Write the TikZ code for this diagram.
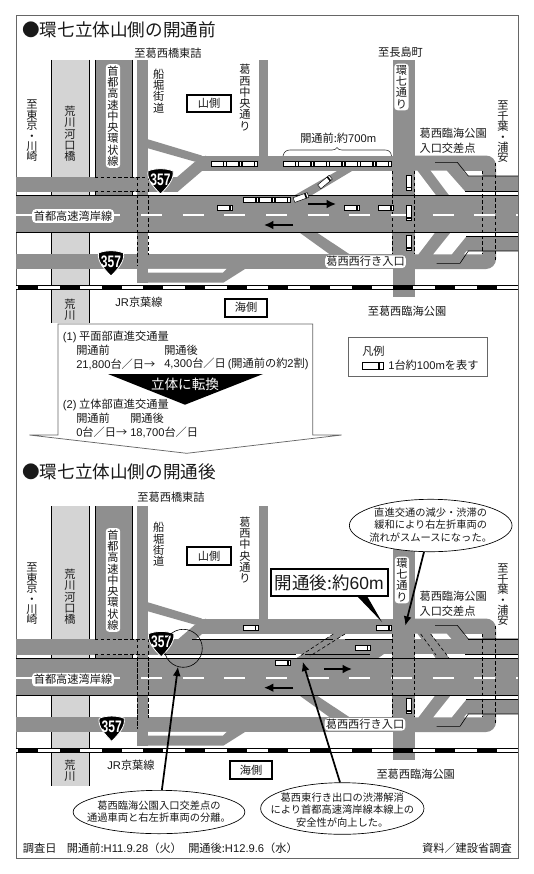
\documentclass[tikz,border=0pt]{standalone}
\usepackage{fontspec}
\usetikzlibrary{arrows.meta,shapes.geometric}
\setmainfont{Noto Sans CJK JP}
\newfontfamily\latn{Liberation Sans}
\lineskiplimit=-6pt
\definecolor{roadgray}{gray}{0.56}
\definecolor{rivergray}{gray}{0.83}
\definecolor{framegray}{gray}{0.40}
\definecolor{inkcol}{gray}{0.10}
\tikzset{
  road/.style={fill=roadgray},
  island/.style={fill=white},
  edge/.style={draw=black,line width=0.45pt},
  dashline/.style={draw=black,line width=0.45pt,dash pattern=on 2.6pt off 1.8pt},
  lab/.style={inner sep=0pt,text=inkcol,font=\fontsize{8.4}{8.45}\selectfont,align=center},
  tightlab/.style={lab,font=\fontsize{8.4}{7.8}\selectfont},
  halo/.style={lab,fill=white,rounded corners=2.5pt,inner sep=1.2pt},
  lableft/.style={lab,anchor=west,align=left},
  thickbox/.style={lab,draw=black,line width=1.5pt,fill=white},
  smalltxt/.style={lab,font=\fontsize{7.7}{9.3}\selectfont},
  balloon/.style={ellipse,draw=black,line width=0.5pt,fill=white,inner sep=0pt},
  title/.style={lab,anchor=west,font=\fontsize{13.2}{14}\selectfont},
  flow/.style={line width=1.2pt,draw=black,-{Latex[length=7pt,width=6.5pt]}},
  leader/.style={line width=1.3pt,draw=black,-{Latex[length=7pt,width=6pt]}},
  carshape/.pic={
    \draw[fill=white,line width=0.35pt] (-7.5,-2.5) rectangle (7.5,2.5);
    \fill[black] (4.2,-2.5) rectangle (5.8,2.5);
  },
  shieldmark/.pic={
    \draw[fill=black,draw=white,line width=0.6pt] (-12.5,-10) .. controls (-6,-13) and (6,-13) .. (12.5,-10)
      .. controls (14,-2) and (7,6) .. (0,13) .. controls (-7,6) and (-14,-2) .. (-12.5,-10) -- cycle;
    \node[inner sep=0pt,text=white,xscale=0.72,font=\fontsize{12.5}{13}\latn\bfseries] (n) at (0,-1.5) {357};
  },
}
\newcommand{\basemap}[1]{%
  % river and ring road
  \fill[fill=rivergray] (51,#1) rectangle (89,323);
  \draw[edge] (51,#1)--(51,323) (89,#1)--(89,323);
  \fill[road] (95,#1) rectangle (132,195);
  \draw[edge] (95,#1)--(95,195) (132,#1)--(132,195);
  % Funabori road and its branches
  \fill[road] (137,#1) rectangle (148,282.7);
  \fill[road] (148,139.3)--(201.7,155.5)--(205,160)--(195,161.7)--(148,148.3)--cycle;
  \fill[road] (195,161.7)--(176,178)--(160,191.5)--(178,191.5)--(202,171)--(206,155.5)--cycle;
  \fill[road] (259,#1) rectangle (268,156);
  \fill[road] (200,155.5) rectangle (400,171);
  \fill[road] (16,176.5) rectangle (178,191.5);
  \fill[road] (16,254) rectangle (400,269);
  \fill[road] (137,254)--(245,269)--(223.3,282.7)--(137,282.7)--cycle;
  \fill[road] (137,260) rectangle (245,269);
  \fill[island] (148,268.8)--(226.7,268.8)--(222.6,272.7)--(148,272.7)--cycle;
  % loop at the right
  \fill[road,rounded corners=7.5pt] (392,155.5)--(496,155.5)--(496,269)--(392,269)--cycle;
  \fill[island] (414.3,170.7)--(417.3,170.7)--(435.7,195)--(414.3,195)--cycle;
  \fill[island] (430.7,170.7)--(446.7,170.7)--(465.3,191.7)--(496.5,191.7)--(496.5,195)--(449,195)--cycle;
  \fill[island] (463.3,171)--(482.3,171)--(482.3,176)--(468.3,176)--cycle;
  \fill[island] (414.3,232.5)--(435,232.5)--(418.3,254.3)--(414.3,254.3)--cycle;
  \fill[island] (450.7,232.5)--(496.5,232.5)--(496.5,236.7)--(466,236.7)--(451.7,254.3)--(433.3,254.3)--cycle;
  \fill[island] (466.7,251)--(482.3,251)--(482.3,254.3)--(464,254.3)--cycle;
  \fill[road] (496,176) rectangle (518,191.7);
  \fill[road] (496,236.7) rectangle (518,251);
  \fill[road] (298.7,232)--(316,232)--(350,254.5)--(330,254.5)--cycle;
  % expressway and ring 7
  \fill[road] (16,195) rectangle (518,232.5);
  \fill[road] (392.5,#1) rectangle (414.5,297);
  % lines
  \draw[edge] (16,195)--(518,195) (16,232.5)--(518,232.5);
  \draw[edge] (435,162.3)--(457.3,162.3)--(468.3,176)--(518,176);
  \draw[edge] (465.3,191.7)--(518,191.7);
  \draw[edge] (436.7,263.3)--(460,263.3)--(468.3,251)--(518,251);
  \draw[edge] (466,236.7)--(518,236.7);
  \draw[dashline] (95,177)--(148,177) (95,191)--(148,191);
  \draw[dashline] (137,177)--(137,266) (148,177)--(148,255);
  \draw[dashline] (392.5,171)--(392.5,254) (414.4,171)--(414.4,254);
  \draw[dashline] (482.3,171)--(482.3,254) (495.7,163)--(495.7,262);
  % centre line of the expressway
  \draw[white,line width=1.1pt] (16,215)--(120,215);
  \foreach \k in {0,...,8} {\draw[white,line width=1.1pt] ({141+41.67*\k},215)--({162+41.67*\k},215);}
  \draw[white,line width=1.1pt] (516,215)--(518,215);
  % railway
  \fill[white] (16,285) rectangle (518,289.5);
  \draw[edge] (16,285)--(518,285) (16,289.5)--(518,289.5);
  \foreach \k in {0,...,11} {\fill[black] ({18.3+41.67*\k},285) rectangle ({38.3+41.67*\k},289.5);}
}
\begin{document}
\begin{tikzpicture}[x=0.75pt,y=-0.75pt]
\useasboundingbox (0,0) rectangle (534,874);
\fill[white] (0,0) rectangle (534,874);
\draw[draw=framegray,line width=0.7pt] (16,15) rectangle (518,858);

% ===== upper map =====
\begin{scope}
  \basemap{60}
  \fill[road] (337,171)--(352,171)--(312,195)--(295,195)--cycle;
  \draw[edge] (295,195)--(518,195);
\end{scope}
\node[title] (t1) at (22,30) {●環七立体山側の開通前};
\node[lab] (to1) at (168,53) {至葛西橋東詰};
\node[lab] (to2) at (400.5,52) {至長島町};
\node[tightlab] (to3) at (32,131) {至\\東\\京\\・\\川\\崎};
\node[lab] (riv1) at (70,134) {荒\\川\\河\\口\\橋};
\node[halo] (ring1) at (113,116) {首\\都\\高\\速\\中\\央\\環\\状\\線};
\node[lab] (fun1) at (158.7,91) {船\\堀\\街\\道};
\node[lab] (chu1) at (245,97.5) {葛\\西\\中\\央\\通\\り};
\node[halo] (sev1) at (401.5,87) {環\\七\\通\\り};
\node[tightlab] (to4) at (503,132) {至\\千\\葉\\・\\浦\\安};
\node[thickbox,minimum width=33pt,minimum height=13pt] (yama1) at (209,103.5) {山側};
\node[lab,anchor=west] (len1) at (300,138) {開通前:約{\latn 700m}};
\draw[draw=black!80,line width=0.45pt] (283,156) .. controls (284,152) and (286,150) .. (290,150) -- (332,150) .. controls (335,150) and (336,149) .. (337,147.5) .. controls (338,149) and (339,150) .. (342,150) -- (385,150) .. controls (389,150) and (391,152) .. (391.5,156);
\node[lableft] (cross1a) at (419.3,133.3) {葛西臨海公園};
\node[lableft] (cross1b) at (419.3,148) {入口交差点};
\node[halo] (wan1) at (73,216) {首都高速湾岸線};
\node[halo,inner sep=0.8pt] (west1) at (365.5,261.7) {葛西西行き入口};
\node[lab] (jr1) at (139,302) {{\latn JR}京葉線};
\node[lab] (riv1b) at (70,310) {荒\\川};
\node[thickbox,minimum width=32pt,minimum height=13.5pt] (umi1) at (246,307.5) {海側};
\node[lab] (to5) at (407,311) {至葛西臨海公園};
\foreach \px/\py in {218.5/164,234/164,249.6/164,290.5/164,306/164,321.5/164,337/164,352.5/164,368/164,383.5/164,251/199.7,266.7/199.7,282.4/199.7,225/208,351.8/208.2,386.2/208.2}
  {\pic at (\px,\py) {carshape};}
\pic[rotate=20] at (301,197.5) {carshape};
\pic[rotate=40] at (325,182) {carshape};
\pic[rotate=-90] at (408.8,182.5) {carshape};
\pic[rotate=-90] at (408.8,213.2) {carshape};
\pic[rotate=-90] at (408.8,243.2) {carshape};
\coordinate (f1a) at (308,204); \coordinate (f1b) at (336,204);
\coordinate (f2a) at (293,225); \coordinate (f2b) at (264,225);
\draw[flow] (f1a)--(f1b);
\draw[flow] (f2a)--(f2b);
\pic at (160.5,181) {shieldmark};
\pic at (111,263) {shieldmark};

% ===== middle panel =====
\draw[draw=framegray,fill=white,line width=0.55pt] (58,324)--(312.7,324)--(312.7,435)--(341.7,435)--(186.7,453.3)--(29.3,435)--(58,435)--cycle;
\node[lableft] (m1) at (62.7,337) {{\latn (1)} 平面部直進交通量};
\node[lableft] (m2) at (76,350.5) {開通前};
\node[lableft] (m3) at (164,350.5) {開通後};
\node[lableft] (m4) at (76,364) {{\latn 21,800}台／日→};
\node[lableft] (m5) at (164,364) {{\latn 4,300}台／日{\latn\,(}開通前の約{\latn 2}割{\latn )}};
\fill[black] (108,374)--(263,374)--(185,404.7)--cycle;
\node[lab,text=white,font=\fontsize{10.2}{11}\selectfont] (m6) at (185,384.7) {立体に転換};
\node[lableft] (m7) at (62.7,405) {{\latn (2)} 立体部直進交通量};
\node[lableft] (m8) at (76,418.5) {開通前};
\node[lableft] (m9) at (130,418.5) {開通後};
\node[lableft] (m10) at (76,432) {{\latn 0}台／日→};
\node[lableft] (m11) at (130,432) {{\latn 18,700}台／日};
\draw[draw=framegray,fill=white,line width=0.55pt] (348,337) rectangle (487,376);
\node[lableft] (leg1) at (362,351) {凡例};
\draw[fill=white,line width=0.35pt] (362.7,362.7) rectangle (383,369);
\fill[black] (378,362.7) rectangle (380,369);
\node[lableft] (leg2) at (388,365.5) {{\latn 1}台約{\latn 100m}を表す};

% ===== lower map =====
\node[title] (t2) at (22,471.7) {●環七立体山側の開通後};
\begin{scope}[shift={(0,463)}]
  \basemap{43}
  \fill[road] (16,176.3) rectangle (518,191.3);
  \fill[road] (333.3,171)--(345,171)--(308.3,195)--(296.7,195)--cycle;
  \fill[road] (296.7,195)--(305,191)--(384,191)--(378.3,195)--cycle;
  \fill[road] (392.5,170) rectangle (414.5,196);
  \fill[road] (420,171)--(430.7,171)--(449,195)--(435.7,195)--cycle;
  \draw[edge] (192,176.3)--(333.3,176.3) (345,176.3)--(392.5,176.3) (468.3,176.3)--(518,176.3);
  \draw[edge] (160,191.3)--(296,191.3) (305,191.3)--(370,191.3) (465.3,191.3)--(518,191.3);
  \draw[edge] (297,195)--(518,195);
  \draw[dashline] (95,176.3)--(148,176.3) (95,191.3)--(148,191.3);
  \draw[dashline] (137,176)--(137,266) (148,176)--(148,255);
  \draw[dashline] (392.5,171)--(392.5,254) (414.4,171)--(414.4,254);
  \draw[dashline] (482.3,171)--(482.3,254) (495.7,163)--(495.7,262);
  \draw[dashline] (333.3,171)--(300,193) (345,171)--(310,193);
  \draw[dashline] (420.7,171)--(436,192) (430.7,171)--(449,195);
\end{scope}
\node[lab] (to6) at (171,497) {至葛西橋東詰};
\node[tightlab] (to7) at (32,594) {至\\東\\京\\・\\川\\崎};
\node[lab] (riv2) at (70,597) {荒\\川\\河\\口\\橋};
\node[halo] (ring2) at (113,580) {首\\都\\高\\速\\中\\央\\環\\状\\線};
\node[lab] (fun2) at (158.7,544.5) {船\\堀\\街\\道};
\node[lab] (chu2) at (245,550) {葛\\西\\中\\央\\通\\り};
\node[halo] (sev2) at (402,580) {環\\七\\通\\り};
\node[tightlab] (to8) at (503,595) {至\\千\\葉\\・\\浦\\安};
\node[thickbox,minimum width=33pt,minimum height=13.5pt] (yama2) at (209,556) {山側};
\node[lableft] (cross2a) at (419.3,596.7) {葛西臨海公園};
\node[lableft] (cross2b) at (419.3,611.7) {入口交差点};
\node[halo] (wan2) at (73,679.6) {首都高速湾岸線};
\node[halo,inner sep=0.8pt] (west2) at (365,724.3) {葛西西行き入口};
\node[lab] (jr2) at (131,765) {{\latn JR}京葉線};
\node[lab] (riv2b) at (70,771) {荒\\川};
\node[thickbox,minimum width=32pt,minimum height=13.5pt] (umi2) at (251,770) {海側};
\node[lab] (to9) at (415.7,774.3) {至葛西臨海公園};
\pic at (250.5,627.5) {carshape};
\pic at (362.3,648) {carshape};
\pic at (283,663) {carshape};
\pic at (384,627.5) {carshape};
\pic[rotate=-90] at (408.8,705.8) {carshape};
\coordinate (f3a) at (324.3,669); \coordinate (f3b) at (352,669);
\coordinate (f4a) at (293,687.7); \coordinate (f4b) at (264,687.7);
\draw[flow] (f3a)--(f3b);
\draw[flow] (f4a)--(f4b);
\pic at (161.2,643.7) {shieldmark};
\pic at (111.7,728.3) {shieldmark};
\node[circle,draw=black,line width=0.45pt,inner sep=0pt,minimum size=28.5pt] (spot) at (183.3,648.3) {};
\fill[black] (357,596)--(367,596)--(382,622)--cycle;
\node[thickbox,minimum width=87.5pt,minimum height=20pt,font=\fontsize{13.1}{14}\selectfont] (after) at (329.3,582.6) {開通後:約{\latn 60m}};

% balloons
\node[balloon,minimum width=128.8pt,minimum height=32.5pt] (e1) at (159,812) {};
\node[smalltxt] (e1t) at (159,811.5) {葛西臨海公園入口交差点の\\通過車両と右左折車両の分離。};
\node[balloon,minimum width=122.5pt,minimum height=38.7pt] (e2) at (342.3,808.5) {};
\node[smalltxt] (e2t) at (342.3,810) {葛西東行き出口の渋滞解消\\により首都高速湾岸線本線上の\\安全性が向上した。};
\node[balloon,minimum width=122pt,minimum height=39.3pt] (e3) at (430.7,525.5) {};
\node[smalltxt] (e3t) at (430.7,525) {直進交通の減少・渋滞の\\緩和により右左折車両の\\流れがスムースになった。};
\coordinate (a1) at (178,666.7);
\coordinate (a2) at (302.7,661.7);
\coordinate (a3) at (405.3,625.7);
\draw[leader] (e1)--(a1);
\draw[leader] (e2.95)--(a2);
\draw[leader] (e3)--(a3);

% footer
\node[lableft] (foot1) at (22.7,848) {調査日};
\node[lableft] (foot2) at (66.7,848) {開通前:{\latn H11.9.28}（火）};
\node[lableft] (foot3) at (188,848) {開通後:{\latn H12.9.6}（水）};
\node[lab,anchor=east] (foot4) at (512,848) {資料／建設省調査};
\end{tikzpicture}
\end{document}
